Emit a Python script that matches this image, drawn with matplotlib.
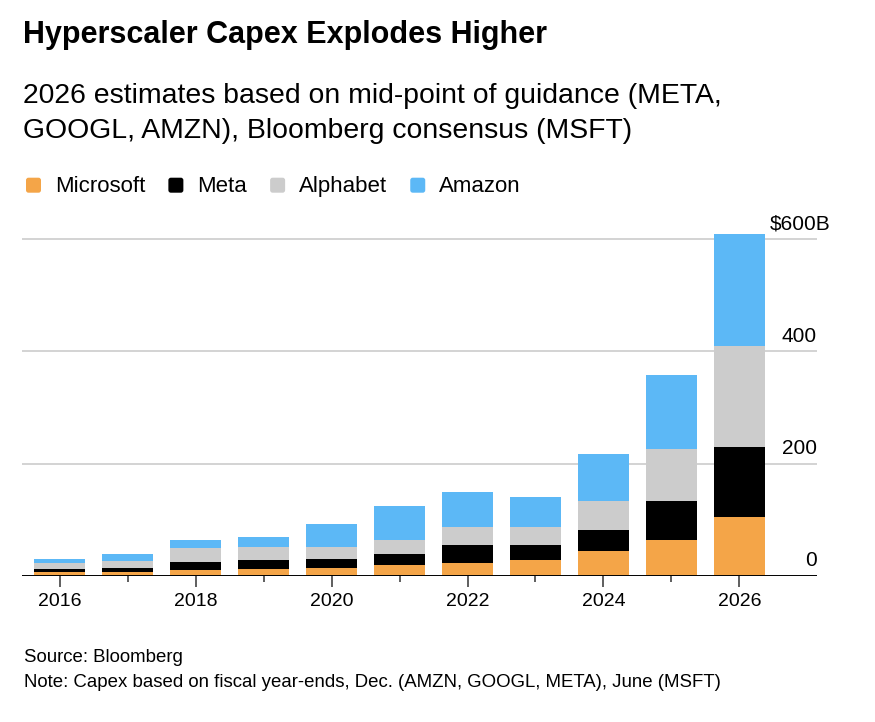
import matplotlib
matplotlib.use("Agg")
import matplotlib.pyplot as plt
import matplotlib.transforms as mtransforms
from matplotlib.patches import FancyBboxPatch

plt.rcParams['font.family'] = ['Liberation Sans', 'DejaVu Sans']

# capex, $B
years = [2016, 2017, 2018, 2019, 2020, 2021, 2022, 2023, 2024, 2025, 2026]
microsoft = [7.7, 8.0, 11.0, 13.0, 14.5, 20.0, 24.0, 28.0, 44.5, 64.0, 104.5]
meta = [4.2, 6.0, 13.6, 15.2, 15.4, 18.4, 31.0, 27.0, 37.0, 70.0, 124.5]
alphabet = [10.7, 13.0, 25.5, 23.7, 22.5, 25.5, 32.0, 32.0, 52.5, 92.0, 180.0]
amazon = [7.0, 12.0, 13.6, 17.0, 40.4, 61.0, 63.0, 53.0, 83.0, 132.0, 200.0]

series_names = ["Microsoft", "Meta", "Alphabet", "Amazon"]
series_vals = [microsoft, meta, alphabet, amazon]
colors = ["#F4A548", "#000000", "#CCCCCC", "#5CB8F6"]

y_ticks = [0, 200, 400, 600]
x_major = [2016, 2018, 2020, 2022, 2024, 2026]
x_minor = [2017, 2019, 2021, 2023, 2025]

W, H = 875, 722
fig = plt.figure(figsize=(W / 100, H / 100), dpi=100)
renderer = fig.canvas.get_renderer()


def fx(px):
    return px / W


def fy(py):
    return 1 - py / H


ax = fig.add_axes([fx(22), fy(576), fx(817) - fx(22), fy(227.7) - fy(576)])
ax.set_xlim(2015.444, 2027.143)
ax.set_ylim(0, 620)

for v in y_ticks[1:]:
    ax.axhline(v, color="#CCCCCC", lw=1.2, zorder=0)

bottom = [0] * len(years)
for name, vals, c in zip(series_names, series_vals, colors):
    ax.bar(years, vals, width=0.75, bottom=bottom, color=c, label=name,
           zorder=2, linewidth=0)
    bottom = [b + v for b, v in zip(bottom, vals)]

ax.axhline(0, color="#000000", lw=1.4, zorder=3)

for s in ax.spines.values():
    s.set_visible(False)
ax.set_yticks([])
ax.set_xticks(x_major)
ax.set_xticks(x_minor, minor=True)
ax.set_xticklabels([str(y) for y in x_major])
ax.tick_params(axis="x", which="major", length=8, width=1.1, color="#333333",
               labelsize=14, pad=4.5, labelcolor="#000000")
ax.tick_params(axis="x", which="minor", length=4.3, width=1.1, color="#333333")

# right-hand value labels sitting on the gridlines
trans = mtransforms.blended_transform_factory(ax.transAxes, ax.transData)
for v in y_ticks[:-1]:
    ax.annotate(f"{v}", xy=(1, v), xycoords=trans, xytext=(0, 7.0),
                textcoords="offset points", ha="right", va="baseline",
                fontsize=15, annotation_clip=False)
# top label: digits right-aligned like the others, unit hangs past the edge
top = y_ticks[-1]
probe = fig.text(0, 0, f"${top}", fontsize=15)
w_pt = probe.get_window_extent(renderer).width * 72 / fig.dpi
probe.remove()
ax.annotate(f"${top}B", xy=(1, top), xycoords=trans, xytext=(-w_pt, 7.0),
            textcoords="offset points", ha="left", va="baseline",
            fontsize=15, annotation_clip=False)

# titles
fig.text(fx(23), fy(43.3), "Hyperscaler Capex Explodes Higher",
         fontsize=22, fontweight="bold", va="baseline")
fig.text(fx(23), fy(103.3), "2026 estimates based on mid-point of guidance (META,",
         fontsize=20.4, va="baseline")
fig.text(fx(23), fy(138.3), "GOOGL, AMZN), Bloomberg consensus (MSFT)",
         fontsize=20.4, va="baseline")

# legend
x = 26
for name, c in zip(series_names, colors):
    box = FancyBboxPatch((x / 100, (H - 192.7) / 100), 0.15, 0.15,
                         boxstyle="round,pad=0,rounding_size=0.025",
                         transform=fig.dpi_scale_trans, color=c, lw=0)
    fig.add_artist(box)
    t = fig.text(fx(x + 29), fy(191.7), name, fontsize=16, va="baseline")
    bb = t.get_window_extent(renderer)
    x = bb.x1 + 23

# footer
fig.text(fx(24), fy(661.7), "Source: Bloomberg", fontsize=13.4, va="baseline")
fig.text(fx(24), fy(686.7),
         "Note: Capex based on fiscal year-ends, Dec. (AMZN, GOOGL, META), June (MSFT)",
         fontsize=13.4, va="baseline")

fig.savefig("out.png", dpi=100)
